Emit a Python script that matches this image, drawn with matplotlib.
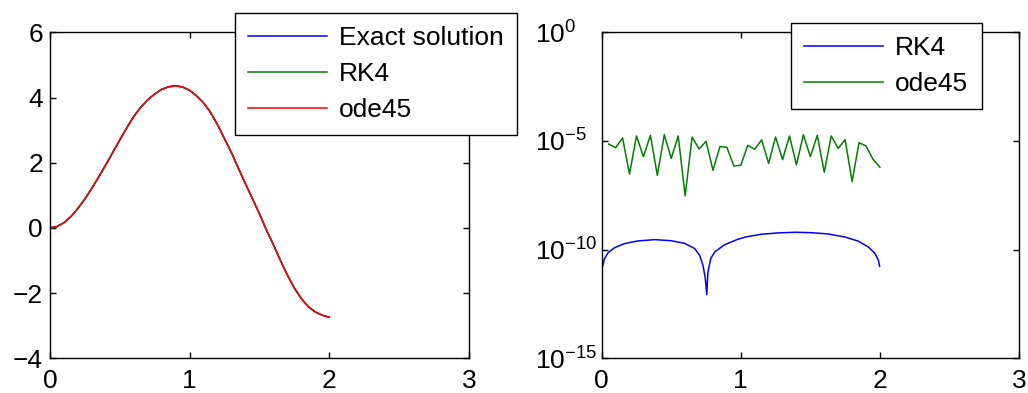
import numpy as np
import matplotlib
matplotlib.use('Agg')
import matplotlib.pyplot as plt
from matplotlib.ticker import NullLocator

plt.rcParams['font.family'] = ['Liberation Sans', 'DejaVu Sans']
plt.rcParams['font.size'] = 19

# %% data

# solution on t = 0:0.05:2 (exact, RK4 and ode45 coincide at this scale)
t = np.linspace(0, 2, 41)
y_exact = [0.00, 0.04, 0.16, 0.35, 0.60, 0.89, 1.22, 1.57, 1.94, 2.32,
           2.70, 3.07, 3.42, 3.70, 3.93, 4.11, 4.25, 4.33, 4.36, 4.32,
           4.22, 4.05, 3.83, 3.54, 3.16, 2.73, 2.30, 1.82, 1.35, 0.89,
           0.43, -0.07, -0.52, -1.00, -1.45, -1.85, -2.17, -2.42, -2.58,
           -2.68, -2.74]
y_rk4 = y_exact
y_ode45 = y_exact

# RK4 error (log10)
rk4_t = [0.002, 0.021, 0.045, 0.093, 0.165, 0.261, 0.381, 0.500, 0.597,
         0.668, 0.704, 0.728, 0.745, 0.755, 0.764, 0.784, 0.812, 0.884,
         0.980, 1.040, 1.150, 1.270, 1.390, 1.510, 1.629, 1.749, 1.845,
         1.917, 1.965, 1.989, 1.998]
rk4_log_err = [-10.87, -10.41, -10.15, -9.91, -9.72, -9.60, -9.54, -9.59,
               -9.71, -9.95, -10.26, -10.72, -11.33, -12.07, -11.03, -10.41,
               -10.11, -9.77, -9.52, -9.41, -9.29, -9.23, -9.20, -9.22,
               -9.28, -9.42, -9.61, -9.88, -10.18, -10.49, -10.76]

# ode45 error (log10) on t = 0.05:0.05:2
ode45_t = np.linspace(0.05, 2, 40)
ode45_log_err = [-5.14, -5.31, -4.86, -6.52, -4.77, -5.72, -4.74, -6.58,
                 -4.71, -5.80, -4.77, -7.52, -4.82, -5.37, -5.02, -6.35,
                 -5.26, -5.29, -6.15, -6.12, -5.20, -5.38, -4.95, -6.03,
                 -4.82, -5.86, -4.77, -6.10, -4.71, -5.72, -4.74, -6.44,
                 -4.77, -5.34, -4.94, -6.87, -5.08, -5.23, -5.84, -6.21]

W, H = 1028, 393

# %% figure

fig = plt.figure(figsize=(W / 100, H / 100), dpi=100)
bottom = 1 - 358.3 / H
height = (358.3 - 32.3) / H
ax1 = fig.add_axes([50 / W, bottom, (469 - 50) / W, height])
ax2 = fig.add_axes([601.7 / W, bottom, (1019 - 601.7) / W, height])

ax1.plot(t, y_exact, color='b', lw=1.1, label='Exact solution')
ax1.plot(t, y_rk4, color=(0, 0.5, 0), lw=1.1, label='RK4')
ax1.plot(t, y_ode45, color='r', lw=1.1, label='ode45')
ax1.set_xlim(0, 3)
ax1.set_ylim(-4, 6)
ax1.set_xticks([0, 1, 2, 3])
ax1.set_yticks([-4, -2, 0, 2, 4, 6])

ax2.semilogy(rk4_t, 10.0 ** np.array(rk4_log_err), color='b', lw=1.1, label='RK4')
ax2.semilogy(ode45_t, 10.0 ** np.array(ode45_log_err), color=(0, 0.5, 0), lw=1.1,
             label='ode45')
ax2.set_xlim(0, 3)
ax2.set_ylim(1e-15, 1)
ax2.set_xticks([0, 1, 2, 3])
ax2.set_yticks([1e-15, 1e-10, 1e-5, 1e0])
ax2.yaxis.set_minor_locator(NullLocator())

for ax in (ax1, ax2):
    ax.tick_params(direction='in', top=True, right=True, length=4,
                   width=1, labelsize=19)
    ax.tick_params(axis='x', pad=8)
    ax.tick_params(axis='y', pad=5)
    for s in ax.spines.values():
        s.set_linewidth(1.0)

# exponent labels left aligned like matlab
ax2.tick_params(axis='y', pad=48)
plt.setp(ax2.get_yticklabels(), ha='left')

leg_kw = dict(loc='upper left', bbox_transform=fig.transFigure, borderaxespad=0,
              fancybox=False, framealpha=1, edgecolor='k', fontsize=19,
              handlelength=3.0, handletextpad=0.45, labelspacing=0.45,
              borderpad=0.5)
l1 = ax1.legend(bbox_to_anchor=(235 / W, 1 - 13 / H), **leg_kw)
l2 = ax2.legend(bbox_to_anchor=(791 / W, 1 - 23 / H), **leg_kw)
for l in (l1, l2):
    l.get_frame().set_linewidth(1.0)

fig.savefig('out.png', dpi=100)
